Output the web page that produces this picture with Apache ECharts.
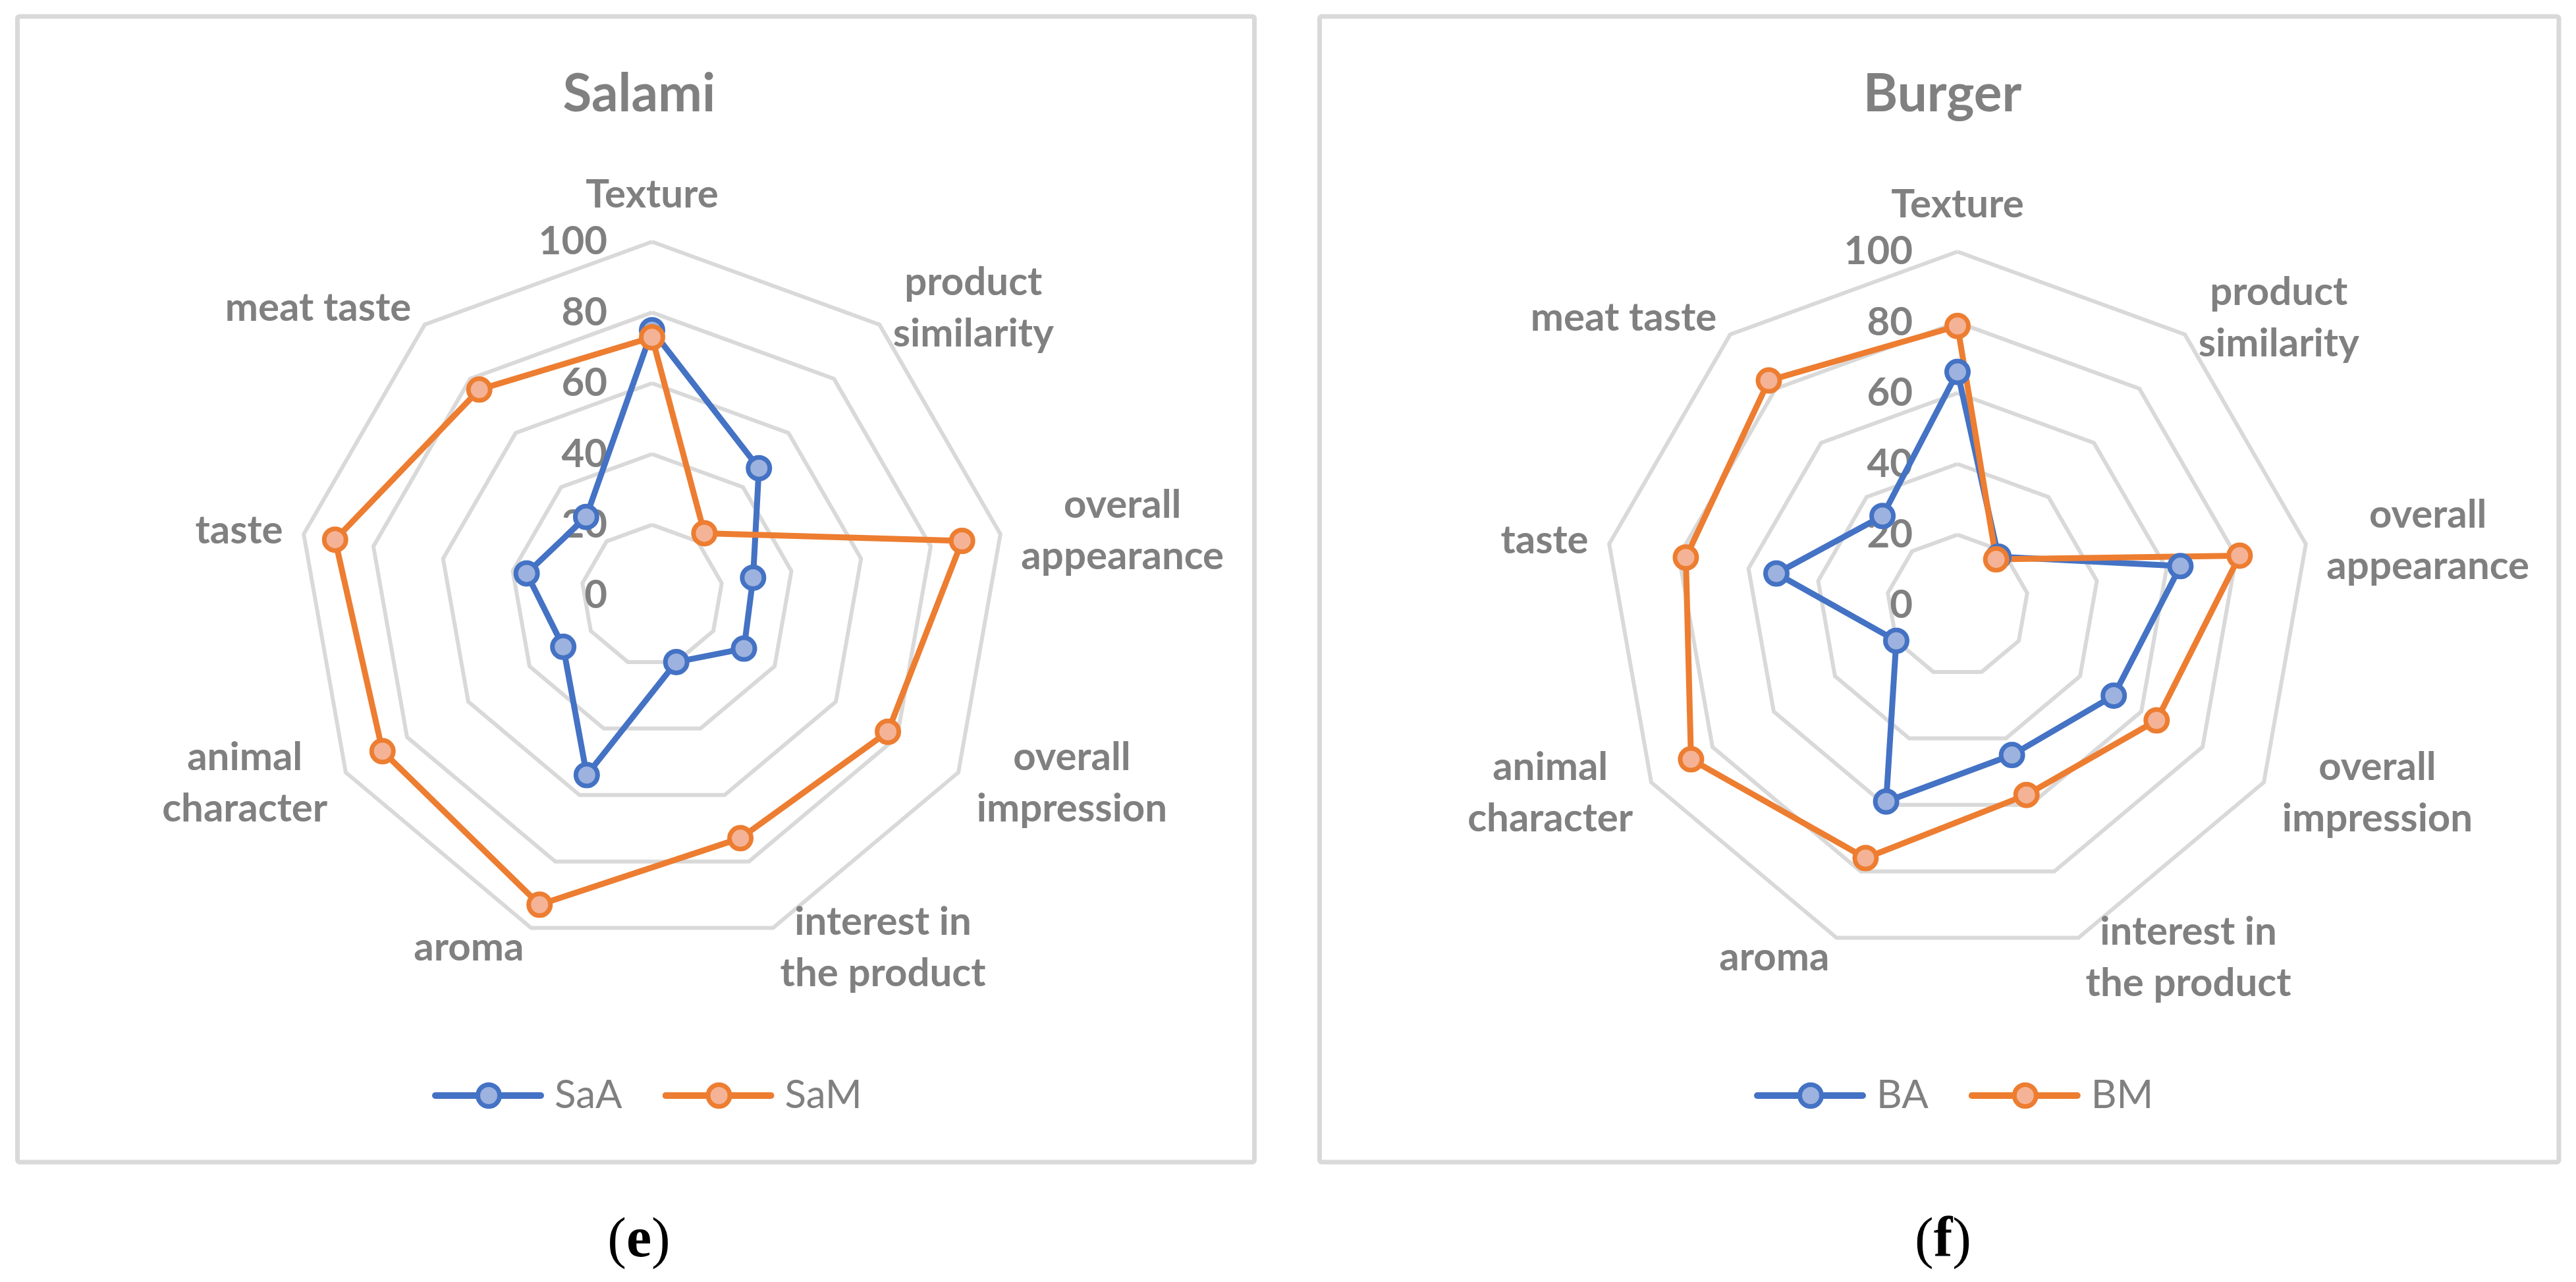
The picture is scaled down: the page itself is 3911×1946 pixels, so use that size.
<!DOCTYPE html>
<html>
<head>
<meta charset="utf-8">
<title>Salami / Burger radar</title>
<script src="https://cdn.jsdelivr.net/npm/echarts@6/dist/echarts.min.js"></script>
<style>
  html, body { margin: 0; padding: 0; background: #ffffff; }
  #chart { width: 3911px; height: 1946px; }
</style>
</head>
<body>
<div id="chart"></div>
<script>
// ---------------- data ----------------
const categories = [
  'Texture',
  'product\nsimilarity',
  'overall\nappearance',
  'overall\nimpression',
  'interest in\nthe product',
  'aroma',
  'animal\ncharacter',
  'taste',
  'meat taste'
];
const radialTicks = [0, 20, 40, 60, 80, 100];

const panelTitles = ['Salami', 'Burger'];
const panelCaptions = ['e', 'f'];

const seriesNamesSalami = ['SaA', 'SaM'];
const seriesNamesBurger = ['BA', 'BM'];

const SaA = [75, 47, 29, 30, 20, 54, 29, 36, 29];
const SaM = [73, 23, 89, 77, 73, 93, 88, 91, 76];
const BA  = [66, 18, 64, 51, 45, 59, 20, 52, 33];
const BM  = [79, 17, 81, 65, 57, 76, 87, 78, 83];

// ---------------- styles ----------------
const BLUE = '#4472C4', BLUE_FILL = '#9DB2DE';
const ORANGE = '#ED7D31', ORANGE_FILL = '#F4B396';
const GREY_TEXT = '#808080';
const GRID = '#D9D9D9';
const FONT = 'Lato, "Open Sans", sans-serif';

// ECharts places indicators counter-clockwise; the original runs clockwise.
const ORDER = [0, 8, 7, 6, 5, 4, 3, 2, 1];
const reorder = arr => ORDER.map(i => arr[i]);

function legendIcon(stroke, fill) {
  const svg = '<svg xmlns="http://www.w3.org/2000/svg" width="181" height="40" viewBox="0 0 181 40">' +
    '<line x1="5" y1="20" x2="165" y2="20" stroke="' + stroke + '" stroke-width="10" stroke-linecap="round"/>' +
    '<circle cx="86" cy="20" r="16.5" fill="' + fill + '" stroke="' + stroke + '" stroke-width="7"/>' +
    '</svg>';
  return 'image://data:image/svg+xml;utf8,' + encodeURIComponent(svg);
}

const labelStyle = { color: GREY_TEXT, fontSize: 60, fontWeight: 'bold', fontFamily: FONT };

function makeRadar(center) {
  return {
    center: center,
    radius: 537,
    startAngle: 90,
    splitNumber: radialTicks.length - 1,
    shape: 'polygon',
    nameGap: 32,
    axisName: {
      color: GREY_TEXT,
      fontSize: 60,
      fontWeight: 'bold',
      fontFamily: FONT,
      formatter: function (name) {
        return name.split('\n').map(l => '{c|' + l + '}').join('\n');
      },
      rich: {
        c: { align: 'center', color: GREY_TEXT, fontSize: 60, fontWeight: 'bold', fontFamily: FONT, lineHeight: 78 }
      }
    },
    indicator: reorder(categories).map((name, i) => {
      const ind = { name: name, min: radialTicks[0], max: radialTicks[radialTicks.length - 1] };
      if (i === 0) {
        ind.axisLabel = Object.assign({ show: true, margin: 68 }, labelStyle);
      }
      return ind;
    }),
    axisLine: { show: false },
    axisTick: { show: false },
    axisLabel: Object.assign({ show: false, margin: 68 }, labelStyle),
    splitLine: { lineStyle: { color: GRID, width: 6 } },
    splitArea: { show: false }
  };
}

function makeItem(name, values, color, fill) {
  return {
    name: name,
    value: reorder(values),
    symbol: 'circle',
    symbolSize: 33,
    lineStyle: { color: color, width: 9 },
    itemStyle: { color: fill, borderColor: color, borderWidth: 7 }
  };
}

function makeLegend(names, left) {
  return {
    left: left,
    top: 1628,
    orient: 'horizontal',
    itemWidth: 181,
    itemHeight: 40,
    itemGap: 61,
    selectedMode: false,
    textStyle: { color: GREY_TEXT, fontSize: 60, fontFamily: FONT, fontWeight: 'normal' },
    data: [
      { name: names[0], icon: legendIcon(BLUE, BLUE_FILL) },
      { name: names[1], icon: legendIcon(ORANGE, ORANGE_FILL) }
    ]
  };
}

function caption(letter, x) {
  return {
    type: 'text',
    x: x,
    y: 1885,
    z: 10,
    style: {
      text: '{p|(}{b|' + letter + '}{p|)}',
      align: 'center',
      verticalAlign: 'middle',
      rich: {
        p: { fontFamily: '"Liberation Serif", "Times New Roman", serif', fontSize: 86, fill: '#000000', fontWeight: 'normal' },
        b: { fontFamily: '"Liberation Serif", "Times New Roman", serif', fontSize: 86, fill: '#000000', fontWeight: 'bold' }
      }
    }
  };
}

function panelRect(x1, x2) {
  return {
    type: 'rect',
    z: 0,
    shape: { x: x1, y: 25, width: x2 - x1, height: 1764 - 25, r: 3 },
    style: { fill: '#ffffff', stroke: GRID, lineWidth: 7 },
    silent: true
  };
}

const option = {
  backgroundColor: '#ffffff',
  animation: false,
  title: [
    { text: panelTitles[0], left: 965.5, top: 98, textAlign: 'center',
      textStyle: { color: GREY_TEXT, fontSize: 80, fontWeight: 'bold', fontFamily: FONT } },
    { text: panelTitles[1], left: 2944, top: 98, textAlign: 'center',
      textStyle: { color: GREY_TEXT, fontSize: 80, fontWeight: 'bold', fontFamily: FONT } }
  ],
  legend: [
    makeLegend(seriesNamesSalami, 651),
    makeLegend(seriesNamesBurger, 2658)
  ],
  radar: [
    makeRadar([990, 904]),
    makeRadar([2972, 919])
  ],
  graphic: [
    panelRect(26.5, 1904.5),
    panelRect(2003.5, 3885),
    caption(panelCaptions[0], 970),
    caption(panelCaptions[1], 2950)
  ],
  series: [
    {
      type: 'radar',
      radarIndex: 0,
      z: 3,
      data: [
        makeItem(seriesNamesSalami[0], SaA, BLUE, BLUE_FILL),
        makeItem(seriesNamesSalami[1], SaM, ORANGE, ORANGE_FILL)
      ]
    },
    {
      type: 'radar',
      radarIndex: 1,
      z: 3,
      data: [
        makeItem(seriesNamesBurger[0], BA, BLUE, BLUE_FILL),
        makeItem(seriesNamesBurger[1], BM, ORANGE, ORANGE_FILL)
      ]
    }
  ]
};

const chart = echarts.init(document.getElementById('chart'), null, { renderer: 'canvas' });
chart.setOption(option);
</script>
</body>
</html>
